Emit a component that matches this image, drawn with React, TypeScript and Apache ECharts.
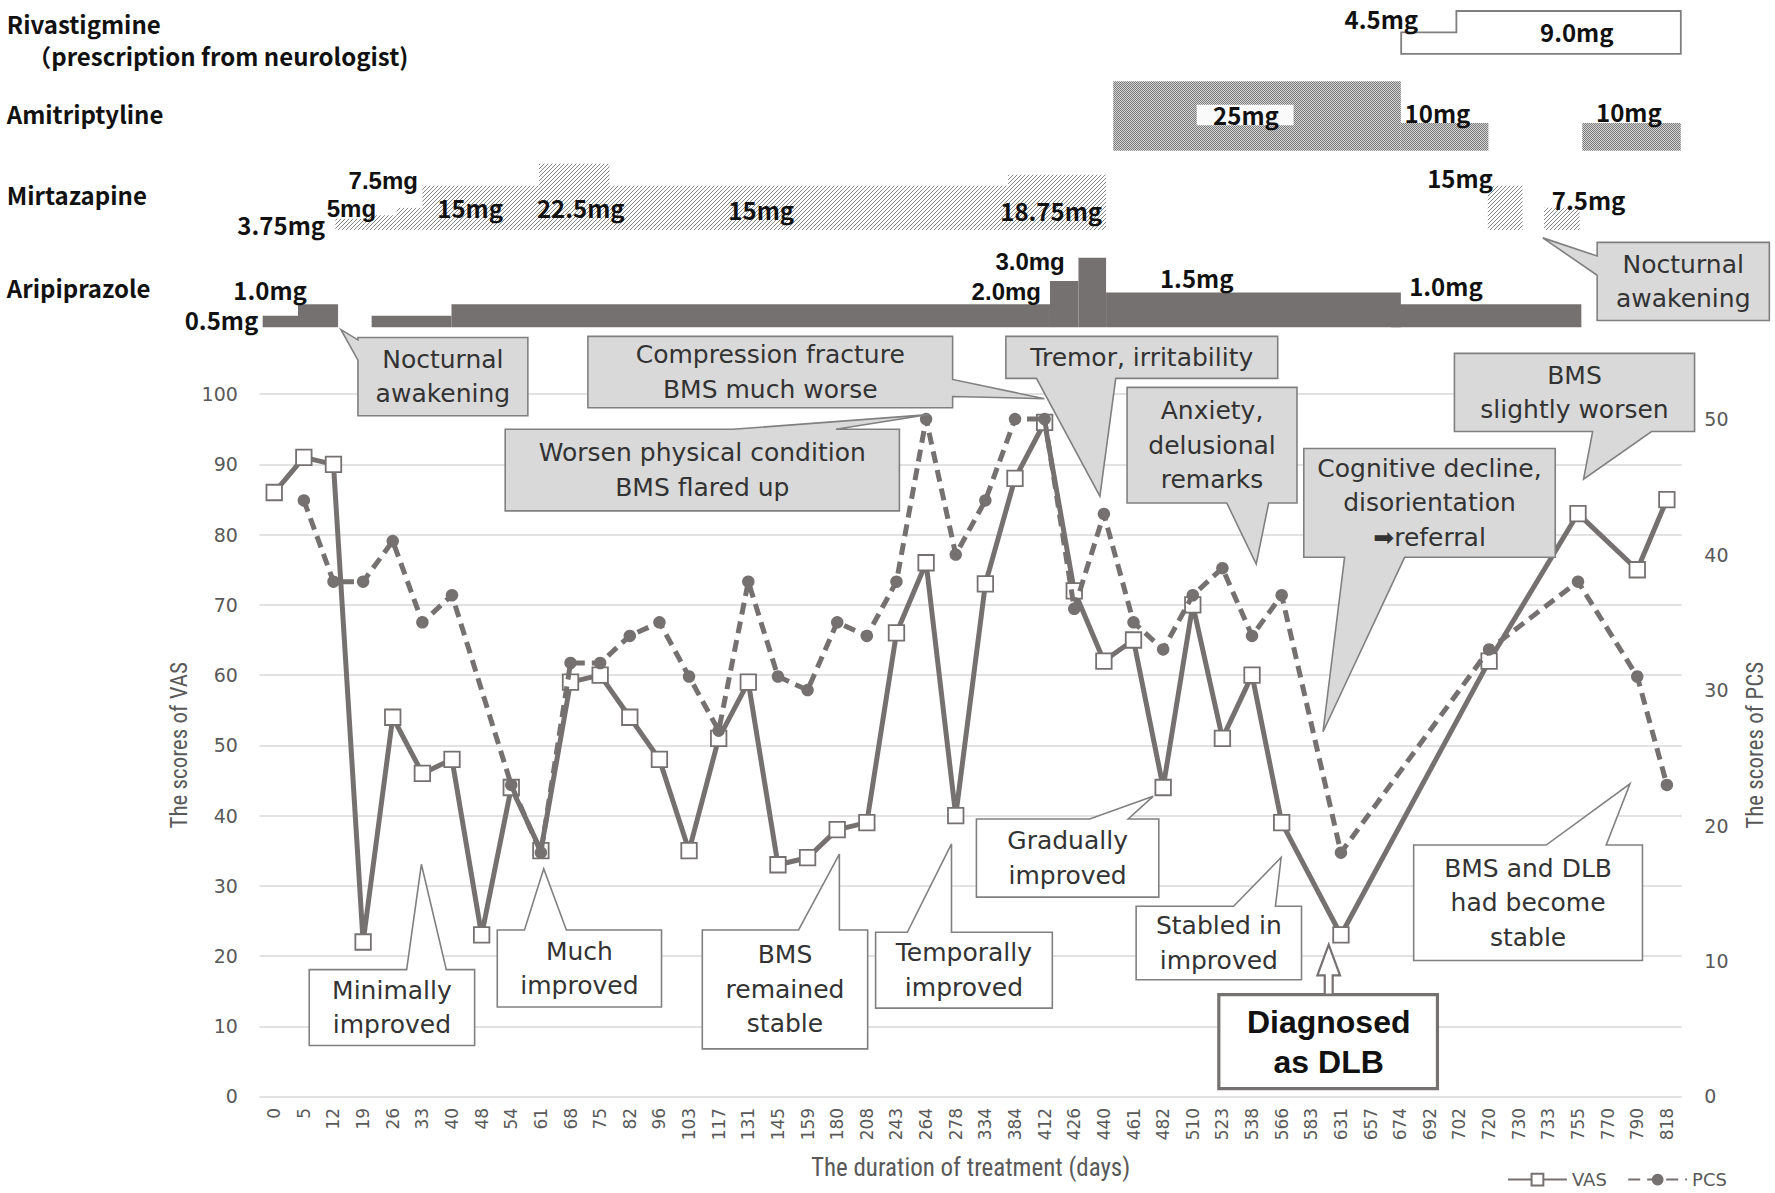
import React, { useEffect, useRef } from 'react';
import * as echarts from 'echarts';

// ---------- data ----------
const days = ['0','5','12','19','26','33','40','48','54','61','68','75','82','96','103','117','131','145','159','180','208','243','264','278','334','384','412','426','440','461','482','510','523','538','566','583','631','657','674','692','702','720','730','733','755','770','790','818'];
const vas = [86,91,90,22,54,46,48,23,44,35,59,60,54,48,35,51,59,33,34,38,39,66,76,40,73,88,96,72,62,65,44,70,51,60,39,null,23,null,null,null,null,62,null,null,83,null,75,85];
const pcs = [null,44,38,38,41,35,37,null,23,18,32,32,34,35,31,27,38,31,30,35,34,38,50,40,44,50,50,36,43,35,33,37,39,34,37,null,18,null,null,null,null,33,null,null,38,null,31,23];

// medication segments: [start (day-index), end (day-index), dose mg]
const rivastigmine = [[37.96, 39.82, 4.5], [39.82, 47.38, 9.0]];
const amitriptyline = [[28.26, 37.95, 25], [37.95, 40.9, 10], [44.06, 47.38, 10]];
const mirtazapine = [[2.06, 3.05, 3.75], [3.05, 4.12, 5], [4.12, 4.99, 7.5], [4.99, 8.92, 15], [8.92, 11.29, 22.5], [11.29, 24.72, 15], [24.72, 28.02, 18.75], [40.88, 42.05, 15], [42.77, 43.97, 7.5]];
const aripiprazole = [[-0.39, 0.8, 0.5], [0.8, 2.15, 1.0], [3.28, 5.97, 0.5], [5.97, 26.13, 1.0], [26.13, 27.09, 2.0], [27.09, 28.02, 3.0], [28.02, 37.95, 1.5], [37.62, 44.03, 1.0]];

// ---------- layout helpers ----------
const K = 1775 / 1567;
const s = (v: number) => v * K;
const GRAY = '#767171';
const LABEL_FONT = '"Noto Sans CJK JP", "Noto Sans", sans-serif';
const TIGHT_FONT = '"Liberation Sans", Arial, sans-serif';
const CALL_FONT = '"DejaVu Sans", Verdana, sans-serif';

type Callout = { lines: string[]; box: number[]; edge: 'top' | 'bottom' | 'left' | 'right'; base: number[]; tip: number[]; fill: string };
const LG = '#d9d9d9';
const WH = '#ffffff';
const callouts: Callout[] = [
  { lines: ['Nocturnal', 'awakening'], box: [316, 298, 150, 69], edge: 'left', base: [300, 318], tip: [301, 291], fill: LG },
  { lines: ['Compression fracture', 'BMS much worse'], box: [519, 297, 322, 63], edge: 'right', base: [335, 350], tip: [922, 352], fill: LG },
  { lines: ['Worsen physical condition', 'BMS flared up'], box: [446, 379, 348, 72], edge: 'top', base: [647, 738], tip: [820, 366], fill: LG },
  { lines: ['Tremor, irritability'], box: [888, 297, 240, 37], edge: 'bottom', base: [915, 985], tip: [971, 438], fill: LG },
  { lines: ['Anxiety,', 'delusional', 'remarks'], box: [995, 342, 150, 102], edge: 'bottom', base: [1083, 1120], tip: [1109, 498], fill: LG },
  { lines: ['Cognitive decline,', 'disorientation', '\u27A1referral'], box: [1151, 396, 222, 96], edge: 'bottom', base: [1187, 1240], tip: [1168, 646], fill: LG },
  { lines: ['BMS', 'slightly worsen'], box: [1284, 312, 212, 69], edge: 'bottom', base: [1406, 1458], tip: [1398, 423], fill: LG },
  { lines: ['Nocturnal', 'awakening'], box: [1410, 214, 152, 69], edge: 'left', base: [226, 243], tip: [1362, 210], fill: LG },
  { lines: ['Minimally', 'improved'], box: [273, 856, 146, 67], edge: 'top', base: [359, 394], tip: [372, 763], fill: WH },
  { lines: ['Much', 'improved'], box: [439, 821, 145, 68], edge: 'top', base: [463, 500], tip: [480, 767], fill: WH },
  { lines: ['BMS', 'remained', 'stable'], box: [620, 821, 146, 105], edge: 'top', base: [705, 741], tip: [741, 754], fill: WH },
  { lines: ['Temporally', 'improved'], box: [773, 823, 156, 67], edge: 'top', base: [801, 840], tip: [840, 745], fill: WH },
  { lines: ['Gradually', 'improved'], box: [862, 723, 161, 69], edge: 'top', base: [962, 996], tip: [1018, 703], fill: WH },
  { lines: ['Stabled in', 'improved'], box: [1003, 800, 146, 65], edge: 'top', base: [1089, 1126], tip: [1131, 757], fill: WH },
  { lines: ['BMS and DLB', 'had become', 'stable'], box: [1248, 746, 202, 102], edge: 'top', base: [1365, 1418], tip: [1439, 692], fill: WH },
];

type Lbl = { t: string; x: number; y: number; a: 'left' | 'right' | 'center'; tight?: boolean };
const medLabels: Lbl[] = [
  { t: '4.5mg', x: 1252, y: 16, a: 'right' },
  { t: '9.0mg', x: 1392, y: 28, a: 'center' },
  { t: '10mg', x: 1240, y: 99, a: 'left' },
  { t: '10mg', x: 1409, y: 98, a: 'left' },
  { t: '3.75mg', x: 287, y: 198, a: 'right' },
  { t: '5mg', x: 332, y: 184, a: 'right', tight: true },
  { t: '7.5mg', x: 369, y: 159, a: 'right', tight: true },
  { t: '15mg', x: 386, y: 183, a: 'left' },
  { t: '22.5mg', x: 474, y: 183, a: 'left' },
  { t: '15mg', x: 643, y: 185, a: 'left' },
  { t: '18.75mg', x: 973, y: 186, a: 'right' },
  { t: '15mg', x: 1318, y: 157, a: 'right' },
  { t: '7.5mg', x: 1370, y: 176, a: 'left' },
  { t: '0.5mg', x: 228, y: 282, a: 'right' },
  { t: '1.0mg', x: 206, y: 256, a: 'left' },
  { t: '3.0mg', x: 940, y: 231, a: 'right', tight: true },
  { t: '2.0mg', x: 919, y: 257, a: 'right', tight: true },
  { t: '1.5mg', x: 1024, y: 245, a: 'left' },
  { t: '1.0mg', x: 1244, y: 252, a: 'left' },
];
const rowNames: Lbl[] = [
  { t: 'Rivastigmine', x: 6, y: 21, a: 'left' },
  { t: '\uFF08prescription from neurologist)', x: 24, y: 49, a: 'left' },
  { t: 'Amitriptyline', x: 6, y: 100, a: 'left' },
  { t: 'Mirtazapine', x: 6, y: 172, a: 'left' },
  { t: 'Aripiprazole', x: 6, y: 254, a: 'left' },
];

function calloutPoints(c: Callout) {
  const [x, y, w, h] = c.box;
  const [b1, b2] = c.base;
  const t = c.tip;
  let pts: number[][] = [];
  if (c.edge === 'top') pts = [[x, y], [b1, y], t, [b2, y], [x + w, y], [x + w, y + h], [x, y + h]];
  if (c.edge === 'bottom') pts = [[x, y], [x + w, y], [x + w, y + h], [b2, y + h], t, [b1, y + h], [x, y + h]];
  if (c.edge === 'left') pts = [[x, y], [x + w, y], [x + w, y + h], [x, y + h], [x, b2], t, [x, b1]];
  if (c.edge === 'right') pts = [[x, y], [x + w, y], [x + w, b1], t, [x + w, b2], [x + w, y + h], [x, y + h]];
  return pts.map((p) => [s(p[0]), s(p[1])]);
}

function makeHatch() {
  const c = document.createElement('canvas');
  c.width = 4; c.height = 4;
  const g = c.getContext('2d')!;
  g.fillStyle = '#ffffff'; g.fillRect(0, 0, 4, 4);
  g.strokeStyle = '#858585'; g.lineWidth = 1;
  g.beginPath();
  g.moveTo(0, 4); g.lineTo(4, 0);
  g.moveTo(-1, 1); g.lineTo(1, -1);
  g.moveTo(3, 5); g.lineTo(5, 3);
  g.stroke();
  return c;
}
function makeDots() {
  const c = document.createElement('canvas');
  c.width = 2; c.height = 2;
  const g = c.getContext('2d')!;
  g.fillStyle = '#d2d2d2'; g.fillRect(0, 0, 2, 2);
  g.fillStyle = '#7c7c7c'; g.fillRect(0, 0, 1, 1); g.fillRect(1, 1, 1, 1);
  return c;
}

export default function App() {
  const ref = useRef<HTMLDivElement>(null);
  useEffect(() => {
    if (!ref.current) return;
    const chart = echarts.init(ref.current, undefined, { renderer: 'svg' });
    const gridLeft = s(229);
    const gridWidth = s(1487 - 229);
    const hatch = { image: makeHatch(), repeat: 'repeat' };
    const dots = { image: makeDots(), repeat: 'repeat' };

    // med rows: baseline (display coords) and px per mg
    const rows = [
      { base: 47.5, ppm: 4.2 },
      { base: 133, ppm: 2.45 },
      { base: 203, ppm: 2.6 },
      { base: 289, ppm: 20.5 },
    ];
    const medGrids = rows.map((r) => {
      const H = Math.min(r.base - 2, 80);
      return { left: gridLeft, width: gridWidth, top: s(r.base - H), height: s(H), max: H / r.ppm };
    });

    const rectItem = (fill: any) => (params: any, api: any) => {
      const a = api.coord([api.value(0), 0]);
      const b = api.coord([api.value(1), api.value(2)]);
      return { type: 'rect', shape: { x: a[0], y: b[1], width: b[0] - a[0], height: a[1] - b[1] }, style: { fill } };
    };
    const rivaItem = (params: any, api: any) => {
      if (params.dataIndex !== 0) return { type: 'group', children: [] };
      const pts: number[][] = [];
      pts.push(api.coord([rivastigmine[0][0], 0]));
      rivastigmine.forEach((seg) => {
        pts.push(api.coord([seg[0], seg[2]]));
        pts.push(api.coord([seg[1], seg[2]]));
      });
      pts.push(api.coord([rivastigmine[rivastigmine.length - 1][1], 0]));
      return { type: 'polygon', shape: { points: pts }, style: { fill: '#fff', stroke: '#7f7f7f', lineWidth: 1.8 } };
    };

    const graphics: any[] = [];
    callouts.forEach((c) => {
      graphics.push({ type: 'polygon', z: 100, silent: true, shape: { points: calloutPoints(c) }, style: { fill: c.fill, stroke: '#808080', lineWidth: 1.6 } });
      const [x, y, w, h] = c.box;
      graphics.push({
        type: 'text', z: 101, silent: true, x: s(x + w / 2), y: s(y + h / 2),
        style: { text: c.lines.join('\n'), fill: '#333333', fontFamily: CALL_FONT, fontSize: 25, lineHeight: s(30.5), align: 'center', verticalAlign: 'middle', textAlign: 'center', textVerticalAlign: 'middle' },
      });
    });
    // Diagnosed box + arrow
    graphics.push({ type: 'rect', z: 100, silent: true, shape: { x: s(1076), y: s(878), width: s(193), height: s(83) }, style: { fill: '#fff', stroke: GRAY, lineWidth: 3.2 } });
    graphics.push({ type: 'text', z: 101, silent: true, x: s(1173), y: s(920), style: { text: 'Diagnosed\nas DLB', fill: '#111', fontFamily: TIGHT_FONT, fontWeight: 'bold', fontSize: 32, lineHeight: s(35), align: 'center', verticalAlign: 'middle', textAlign: 'center', textVerticalAlign: 'middle' } });
    const arrow = [[1169.5, 878], [1169.5, 861], [1163, 861], [1173, 834], [1183, 861], [1176.5, 861], [1176.5, 878]].map((p) => [s(p[0]), s(p[1])]);
    graphics.push({ type: 'polygon', z: 100, silent: true, shape: { points: arrow }, style: { fill: '#fff', stroke: GRAY, lineWidth: 2.2 } });
    // 25mg white label background
    graphics.push({ type: 'rect', z: 50, silent: true, shape: { x: s(1056.5), y: s(92.5), width: s(85.5), height: s(18) }, style: { fill: '#fafafa' } });
    graphics.push({ type: 'text', z: 51, silent: true, x: s(1100), y: s(101.5), style: { text: '25mg', fill: '#111', fontFamily: LABEL_FONT, fontWeight: 'bold', fontSize: 24, align: 'center', verticalAlign: 'middle', textAlign: 'center', textVerticalAlign: 'middle' } });
    [...medLabels, ...rowNames].forEach((l) => {
      graphics.push({ type: 'text', z: 51, silent: true, x: s(l.x), y: s(l.y), style: { text: l.t, fill: '#111', fontFamily: l.tight ? TIGHT_FONT : LABEL_FONT, fontWeight: 'bold', fontSize: 24, align: l.a, verticalAlign: 'middle', textAlign: l.a, textVerticalAlign: 'middle' } });
    });

    const axisLabelStyle = { fontFamily: CALL_FONT, fontSize: 19, color: '#595959' };
    const nameStyle = { fontFamily: '"Liberation Sans Narrow", "Roboto Condensed", Roboto, sans-serif', fontSize: 23, color: '#595959' };

    const option: any = {
      animation: false,
      backgroundColor: '#ffffff',
      grid: [
        { left: gridLeft, width: gridWidth, top: s(348), height: s(620) },
        ...medGrids.map((g) => ({ left: g.left, width: g.width, top: g.top, height: g.height })),
      ],
      legend: {
        data: ['VAS', 'PCS'], left: s(1326), top: s(1029), itemWidth: s(52), itemHeight: s(13), itemGap: s(18),
        textStyle: { fontFamily: CALL_FONT, fontSize: 18, color: '#595959' },
      },
      xAxis: [
        {
          type: 'category', gridIndex: 0, data: days, boundaryGap: true,
          axisLine: { show: false }, axisTick: { show: false },
          axisLabel: { ...axisLabelStyle, fontSize: 17, rotate: 90, interval: 0, margin: s(10) },
          name: 'The duration of treatment (days)', nameLocation: 'middle', nameGap: s(52), nameTextStyle: { ...nameStyle, fontSize: 25 },
        },
        ...medGrids.map((g, i) => ({ type: 'value', gridIndex: i + 1, min: -0.5, max: 47.5, show: false })),
      ],
      yAxis: [
        {
          type: 'value', gridIndex: 0, min: 0, max: 100, interval: 10, position: 'left',
          axisLine: { show: false }, axisTick: { show: false },
          splitLine: { lineStyle: { color: '#d9d9d9', width: 1.6 } },
          axisLabel: { ...axisLabelStyle, margin: s(19) },
          name: 'The scores of VAS', nameLocation: 'middle', nameGap: s(60), nameRotate: 90, nameTextStyle: nameStyle,
        },
        {
          type: 'value', gridIndex: 0, min: 0, max: 51.84, interval: 10, position: 'right',
          axisLine: { show: false }, axisTick: { show: false }, splitLine: { show: false },
          axisLabel: { ...axisLabelStyle, margin: s(20), showMaxLabel: false, formatter: (v: number) => (Math.abs(v % 10) < 1e-6 ? String(v) : '') },
          name: 'The scores of PCS', nameLocation: 'middle', nameGap: s(55), nameRotate: 90, nameTextStyle: nameStyle,
        },
        ...medGrids.map((g, i) => ({ type: 'value', gridIndex: i + 1, min: 0, max: g.max, show: false })),
      ],
      series: [
        {
          name: 'VAS', type: 'line', xAxisIndex: 0, yAxisIndex: 0, data: vas, connectNulls: true, z: 3,
          symbol: 'rect', symbolSize: 15.5,
          itemStyle: { color: '#ffffff', borderColor: GRAY, borderWidth: 1.8 },
          lineStyle: { color: GRAY, width: 5 },
        },
        {
          name: 'PCS', type: 'line', xAxisIndex: 0, yAxisIndex: 1, data: pcs, connectNulls: true, z: 4,
          symbol: 'circle', symbolSize: 12.5,
          itemStyle: { color: GRAY },
          lineStyle: { color: GRAY, width: 5, type: [12, 7] },
        },
        { type: 'custom', xAxisIndex: 1, yAxisIndex: 2, data: rivastigmine, renderItem: rivaItem, silent: true },
        { type: 'custom', xAxisIndex: 2, yAxisIndex: 3, data: amitriptyline, renderItem: rectItem(dots), silent: true },
        { type: 'custom', xAxisIndex: 3, yAxisIndex: 4, data: mirtazapine, renderItem: rectItem(hatch), silent: true },
        { type: 'custom', xAxisIndex: 4, yAxisIndex: 5, data: aripiprazole, renderItem: rectItem(GRAY), silent: true },
      ],
      graphic: { elements: graphics },
    };
    chart.setOption(option);
    return () => chart.dispose();
  }, []);
  return <div ref={ref} style={{ position: 'fixed', left: 0, top: 0, width: 1775, height: 1193, background: '#fff' }} />;
}
